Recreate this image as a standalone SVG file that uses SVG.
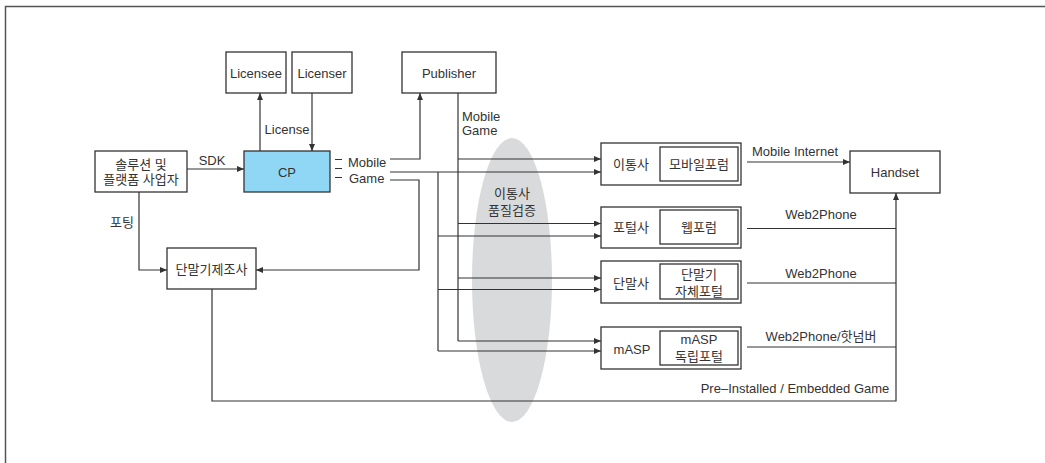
<svg xmlns="http://www.w3.org/2000/svg" width="1045" height="463" viewBox="0 0 1045 463">
<style>
  .box{fill:#fff;stroke:#333;stroke-width:1.3}
  .cp{fill:#8fd7f4;stroke:#333;stroke-width:1.3}
  .ln{fill:none;stroke:#333;stroke-width:1.2}
  .t{font-family:"Liberation Sans","Noto Sans CJK KR",sans-serif;font-size:13px;fill:#333;text-anchor:middle;dominant-baseline:central}
  .tl{font-family:"Liberation Sans","Noto Sans CJK KR",sans-serif;font-size:13px;fill:#333;text-anchor:start;dominant-baseline:central}
</style>
<defs>
  <marker id="ah" markerWidth="7" markerHeight="6" refX="7" refY="3" orient="auto" markerUnits="userSpaceOnUse">
    <path d="M0,0 L7,3 L0,6 z" fill="#333"/>
  </marker>
</defs>
<rect x="5.5" y="6.5" width="1100" height="500" fill="#fff" stroke="#555" stroke-width="1.5"/>
<ellipse id="quality" cx="512" cy="280" rx="40" ry="142" fill="#d9dadc"/>
<text class="t" x="512" y="193">이통사</text>
<text class="t" x="512" y="210">품질검증</text>

<g id="connectors">
  <path class="ln" d="M260,151 V93" marker-end="url(#ah)"/>
  <path class="ln" d="M312,93 V151" marker-end="url(#ah)"/>
  <path class="ln" d="M187,169 H244" marker-end="url(#ah)"/>
  <path class="ln" d="M390,159 H420 V93" marker-end="url(#ah)"/>
  <path class="ln" d="M390,172 H601" marker-end="url(#ah)"/>
  <path class="ln" d="M438,172 V351"/>
  <path class="ln" d="M438,236 H601" marker-end="url(#ah)"/>
  <path class="ln" d="M438,289.5 H601" marker-end="url(#ah)"/>
  <path class="ln" d="M438,351 H601" marker-end="url(#ah)"/>
  <path class="ln" d="M458,93 V341"/>
  <path class="ln" d="M458,159 H601" marker-end="url(#ah)"/>
  <path class="ln" d="M458,223.5 H601" marker-end="url(#ah)"/>
  <path class="ln" d="M458,278 H601" marker-end="url(#ah)"/>
  <path class="ln" d="M458,341 H601" marker-end="url(#ah)"/>
  <path class="ln" d="M390,180 H419 V270 H256" marker-end="url(#ah)"/>
  <path class="ln" d="M139,192 V270 H167" marker-end="url(#ah)"/>
  <path class="ln" d="M747,162 H850" marker-end="url(#ah)"/>
  <path class="ln" d="M747,228.5 H896"/>
  <path class="ln" d="M747,283 H896"/>
  <path class="ln" d="M747,347 H896"/>
  <path class="ln" d="M212,289 V401 H896 V193" marker-end="url(#ah)"/>
  <path class="ln" d="M335,159.5 H342 M335,168.5 H342 M335,177.5 H342"/>
  <text class="t" x="287" y="129">License</text>
  <text class="t" x="212" y="160">SDK</text>
  <text class="tl" x="348" y="162">Mobile</text>
  <text class="tl" x="349" y="178">Game</text>
  <text class="tl" x="462" y="116">Mobile</text>
  <text class="tl" x="462" y="130">Game</text>
  <text class="t" x="122" y="222">포팅</text>
  <text class="t" x="795" y="151">Mobile Internet</text>
  <text class="t" x="821" y="214">Web2Phone</text>
  <text class="t" x="821" y="273">Web2Phone</text>
  <text class="t" x="821" y="336">Web2Phone/핫넘버</text>
  <text class="t" x="795" y="388">Pre–Installed / Embedded Game</text>
</g>

<g id="licensee"><rect class="box" x="226" y="52" width="60" height="41"/><text class="t" x="256" y="73">Licensee</text></g>
<g id="licenser"><rect class="box" x="292" y="52" width="60" height="41"/><text class="t" x="322" y="73">Licenser</text></g>
<g id="publisher"><rect class="box" x="402" y="52" width="94" height="41"/><text class="t" x="449" y="73">Publisher</text></g>
<g id="cp"><rect class="cp" x="244" y="151" width="86" height="41"/><text class="t" x="287" y="172">CP</text></g>
<g id="solution"><rect class="box" x="95" y="151" width="92" height="41"/><text class="t" x="141" y="164">솔루션 및</text><text class="t" x="141" y="179">플랫폼 사업자</text></g>
<g id="maker"><rect class="box" x="167" y="248" width="89" height="41"/><text class="t" x="211.5" y="269">단말기제조사</text></g>
<g id="handset"><rect class="box" x="850" y="151" width="90" height="42"/><text class="t" x="895" y="172">Handset</text></g>

<g id="carrier"><rect class="box" x="601" y="143" width="140" height="42"/><rect class="box" x="660" y="147" width="78" height="34"/><text class="t" x="631" y="164">이통사</text><text class="t" x="699" y="164">모바일포럼</text></g>
<g id="portal"><rect class="box" x="601" y="207" width="140" height="41"/><rect class="box" x="660" y="210" width="78" height="34"/><text class="t" x="631" y="227">포털사</text><text class="t" x="699" y="227">웹포럼</text></g>
<g id="devco"><rect class="box" x="601" y="261" width="140" height="42"/><rect class="box" x="660" y="264" width="78" height="35"/><text class="t" x="631" y="283">단말사</text><text class="t" x="699" y="274">단말기</text><text class="t" x="699" y="291">자체포털</text></g>
<g id="masp"><rect class="box" x="601" y="327" width="140" height="42"/><rect class="box" x="660" y="331" width="78" height="34"/><text class="t" x="632" y="349">mASP</text><text class="t" x="699" y="339">mASP</text><text class="t" x="699" y="356">독립포털</text></g>
</svg>
